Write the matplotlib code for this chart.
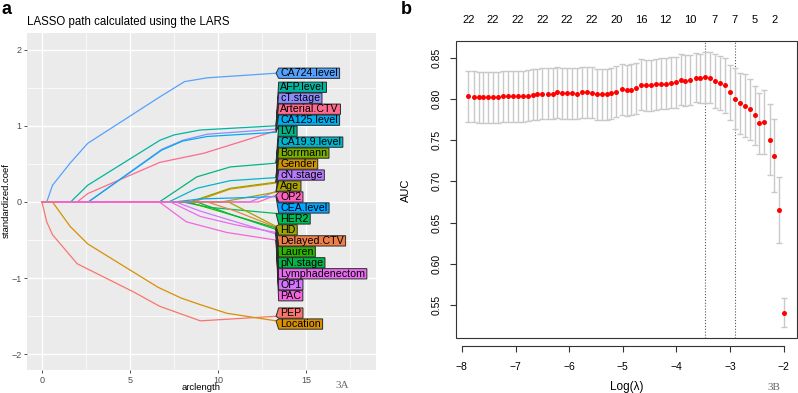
import numpy as np
import matplotlib
matplotlib.use('Agg')
import matplotlib.pyplot as plt
from matplotlib.patches import Polygon, Rectangle
from matplotlib.transforms import blended_transform_factory

plt.rcParams['font.family'] = ['Liberation Sans', 'DejaVu Sans']

# ---- panel a: LARS coefficient paths (arclength knots, coefficient at knot) ----
var_names = ['CA724.level', 'AFP.level', 'cT.stage', 'Arterial.CTV', 'CA125.level',
             'LVI', 'CA19.9.level', 'Borrmann', 'Gender', 'cN.stage', 'Age', 'OP2',
             'CEA.level', 'HER2', 'HD', 'Delayed.CTV', 'Lauren', 'pN.stage',
             'Lymphadenectom', 'OP1', 'PAC', 'PEP', 'Location']

path_arclength = [
    [0, 0.27, 0.6, 1.6, 2.6, 6.7, 8.1, 9.4, 13.3],
    [0, 1.63, 2.6, 6.7, 7.5, 9.0, 13.3],
    [0, 2.63, 6.8, 8.0, 9.4, 13.3],
    [0, 2.0, 2.6, 6.7, 9.2, 13.3],
    [0, 2.63, 6.8, 8.0, 9.4, 13.3],
    [0, 6.67, 8.8, 10.7, 13.3],
    [0, 7.2, 8.8, 10.7, 13.3],
    [0, 8.4, 10.7, 13.3],
    [0, 8.6, 10.7, 13.3],
    [0, 11.8, 13.3],
    [0, 10.2, 13.3],
    [0, 12.3, 13.3],
    [0, 7.5, 9.0, 13.3],
    [0, 8.0, 9.5, 13.3],
    [0, 10.6, 13.3],
    [0, 9.4, 11.0, 13.3],
    [0, 8.3, 10.5, 13.3],
    [0, 8.8, 10.7, 13.3],
    [0, 7.3, 9.0, 11.0, 13.3],
    [0, 7.6, 9.0, 13.3],
    [0, 6.67, 8.2, 10.5, 13.3],
    [0, 0.27, 0.6, 2.0, 2.6, 5.2, 6.7, 9.0, 13.3],
    [0, 0.6, 1.6, 2.6, 6.6, 7.9, 8.9, 10.5, 13.3],
]
path_coef = [
    [0, 0, 0.22, 0.51, 0.77, 1.38, 1.58, 1.63, 1.69],
    [0, 0, 0.22, 0.81, 0.88, 0.945, 1.00],
    [0, 0, 0.69, 0.81, 0.89, 0.955],
    [0, 0, 0.11, 0.52, 0.64, 0.935],
    [0, 0, 0.68, 0.80, 0.86, 0.915],
    [0, 0, 0.33, 0.46, 0.51],
    [0, 0, 0.18, 0.28, 0.32],
    [0, 0, 0.18, 0.26],
    [0, 0, 0.17, 0.25],
    [0, 0, 0.14],
    [0, 0, 0.13],
    [0, 0, 0.09],
    [0, 0, 0.04, 0.07],
    [0, 0, -0.07, -0.15],
    [0, 0, -0.32],
    [0, 0, -0.12, -0.33],
    [0, 0, -0.15, -0.34],
    [0, 0, -0.16, -0.36],
    [0, 0, -0.19, -0.30, -0.40],
    [0, 0, -0.12, -0.42],
    [0, 0, -0.26, -0.40, -0.50],
    [0, -0.26, -0.43, -0.81, -0.88, -1.18, -1.37, -1.56, -1.50],
    [0, 0, -0.32, -0.55, -1.12, -1.26, -1.34, -1.46, -1.56],
]
var_colors = ['#55A1FF', '#00B5A0', '#8C8CFF', '#FF6A8E', '#00ADEE', '#00B483',
              '#00B5CC', '#7AAE00', '#CC9400', '#B77BFF', '#ABA300', '#FF62BC',
              '#00A6FF', '#00BC5A', '#9BA600', '#EF7F49', '#2AB600', '#00B846',
              '#E96BF0', '#D474FF', '#F565E0', '#F8766D', '#D89000']

# ---- panel b: cross-validated AUC along log(lambda) ----
log_lambda = [-7.88, -7.78, -7.69, -7.60, -7.51, -7.42, -7.32, -7.23, -7.14, -7.05,
              -6.96, -6.86, -6.77, -6.68, -6.59, -6.50, -6.40, -6.31, -6.22, -6.13,
              -6.04, -5.94, -5.85, -5.76, -5.67, -5.58, -5.48, -5.39, -5.30, -5.21,
              -5.12, -5.02, -4.93, -4.84, -4.75, -4.66, -4.56, -4.47, -4.38, -4.29,
              -4.20, -4.10, -4.01, -3.92, -3.83, -3.74, -3.64, -3.55, -3.46, -3.37,
              -3.28, -3.18, -3.09, -3.00, -2.91, -2.82, -2.72, -2.63, -2.54, -2.45,
              -2.36, -2.26, -2.17, -2.08, -1.99]
auc_mean = [0.8033, 0.8029, 0.8021, 0.8021, 0.8021, 0.8021, 0.8025, 0.8033, 0.8033, 0.8033,
            0.8037, 0.8037, 0.8041, 0.8053, 0.8061, 0.8065, 0.8065, 0.8065, 0.8085, 0.8073,
            0.8073, 0.8069, 0.8065, 0.8081, 0.8081, 0.8077, 0.8057, 0.8057, 0.8057, 0.8073,
            0.8093, 0.8118, 0.8110, 0.8114, 0.8134, 0.8178, 0.8170, 0.8170, 0.8182, 0.8186,
            0.8190, 0.8198, 0.8206, 0.8234, 0.8222, 0.8234, 0.8263, 0.8255, 0.8267, 0.8259,
            0.8222, 0.8198, 0.8166, 0.8081, 0.8005, 0.7948, 0.7920, 0.7876, 0.7803, 0.7707,
            0.7719, 0.7509, 0.7312, 0.6650, 0.5406]
auc_sd = [0.031] * 45 + [0.030, 0.030, 0.030, 0.031, 0.031, 0.033, 0.033, 0.033, 0.034,
                         0.037, 0.037, 0.038, 0.037, 0.036, 0.037, 0.039, 0.043, 0.0445,
                         0.040, 0.0175]
nzero_idx = [0, 5, 10, 15, 20, 25, 30, 35, 40, 45, 50, 54, 58, 62]
nzero_labels = ['22', '22', '22', '22', '22', '22', '20', '16', '12', '10', '7', '7', '5', '2']
idx_min = 48
idx_1se = 54


def spread_labels(targets, gap):
    '''stack labels around the mean of their cluster so they do not overlap'''
    order = list(np.argsort(-np.asarray(targets)))
    clusters = [[i] for i in order]

    def pos(cl):
        c = np.mean([targets[i] for i in cl])
        n = len(cl)
        return [c + gap * ((n - 1) / 2 - k) for k in range(n)]

    merged = True
    while merged:
        merged = False
        for j in range(len(clusters) - 1):
            if pos(clusters[j])[-1] - pos(clusters[j + 1])[0] < gap:
                clusters[j] = clusters[j] + clusters[j + 1]
                del clusters[j + 1]
                merged = True
                break
    out = {}
    for cl in clusters:
        for i, y in zip(cl, pos(cl)):
            out[i] = y
    return [out[i] for i in range(len(targets))]


W, H = 798, 393
fig = plt.figure(figsize=(W / 100, H / 100), dpi=100)

# ------------------------------- panel a
ax1 = fig.add_axes([27 / W, 1 - 370 / H, (376 - 27) / W, (370 - 33) / H])
ax1.set_facecolor('#EBEBEB')
ax1.set_xlim(-0.85, 18.98)
ax1.set_ylim(-2.205, 2.218)
ax1.set_xticks([0, 5, 10, 15])
ax1.set_yticks([-2, -1, 0, 1, 2])
ax1.set_xticks([2.5, 7.5, 12.5, 17.5], minor=True)
ax1.set_yticks([-1.5, -0.5, 0.5, 1.5], minor=True)
ax1.grid(which='major', color='white', lw=1.0)
ax1.grid(which='minor', color='white', lw=0.5)
ax1.set_axisbelow(True)
for s in ax1.spines.values():
    s.set_visible(False)
ax1.tick_params(which='major', length=2.5, width=0.6, color='#333333',
                labelcolor='#4D4D4D', labelsize=6.5, pad=1.5)
ax1.tick_params(which='minor', length=0)
ax1.set_yticklabels(['\u22122', '\u22121', '0', '1', '2'])

for k, name in enumerate(var_names):
    z = 3 if name == 'OP2' else 2
    ax1.plot(path_arclength[k], path_coef[k], color=var_colors[k], lw=0.9, zorder=z)

ends = [c[-1] for c in path_coef]
label_y = spread_labels(ends, 0.144)
x_tip, x_box = 13.3, 13.45
box_h = 0.135
texts = []
for k, name in enumerate(var_names):
    t = ax1.text(x_box + 0.08, label_y[k], name, fontsize=7.7, va='center', ha='left',
                 color='black', zorder=6)
    texts.append(t)
fig.canvas.draw()
renderer = fig.canvas.get_renderer()
inv = ax1.transData.inverted()
for k, t in enumerate(texts):
    bb = t.get_window_extent(renderer)
    x_end = inv.transform((bb.x1, bb.y0))[0] + 0.1
    ly = label_y[k]
    poly = Polygon([(x_tip, ends[k]), (x_box, ly + box_h / 2), (x_end, ly + box_h / 2),
                    (x_end, ly - box_h / 2), (x_box, ly - box_h / 2)],
                   closed=True, facecolor=var_colors[k], edgecolor='#2b2b2b', lw=0.7,
                   zorder=5)
    ax1.add_patch(poly)

fig.text(27 / W, 1 - 22 / H, 'LASSO path calculated using the LARS', fontsize=8.3,
         ha='left', va='center')
fig.text(201 / W, 1 - 388 / H, 'arclength', fontsize=6.8, ha='center', va='center')
fig.text(6 / W, 1 - 201 / H, 'standardized.coef', fontsize=6.8, ha='center', va='center',
         rotation=90)
fig.text(342 / W, 1 - 385 / H, '3A', fontsize=8, ha='center', va='center',
         family='Liberation Serif', color='#666666')
fig.text(1 / W, 1 - 10 / H, 'a', fontsize=13, fontweight='bold', ha='left', va='center')

# ------------------------------- panel b
ax2 = fig.add_axes([456 / W, 1 - 338 / H, (797 - 456) / W, (338 - 41) / H])
ax2.set_xlim(-8.11, -1.75)
ax2.set_ylim(0.5096, 0.8707)
ax2.errorbar(log_lambda, auc_mean, yerr=auc_sd, fmt='none', ecolor='#C9C9C9',
             elinewidth=1.0, capsize=2.2, capthick=1.0, zorder=2)
ax2.plot(log_lambda, auc_mean, 'o', color='red', ms=3.6, mec='none', zorder=3)
for i in (idx_min, idx_1se):
    ax2.axvline(log_lambda[i], color='#555555', lw=0.8, ls=(0, (1, 1.6)), zorder=1)

ax2.add_patch(Rectangle((0, 0), 1, 1, transform=ax2.transAxes, fill=False,
                        lw=0.8, ec='#333333', clip_on=False, zorder=4))
ax2.spines['top'].set_visible(False)
ax2.spines['right'].set_visible(False)
ax2.spines['bottom'].set_position(('outward', 6))
ax2.spines['bottom'].set_bounds(-8, -2)
ax2.spines['left'].set_bounds(0.55, 0.85)
for s in ('bottom', 'left'):
    ax2.spines[s].set_linewidth(0.8)
    ax2.spines[s].set_color('#333333')
ax2.set_xticks([-8, -7, -6, -5, -4, -3, -2])
ax2.set_xticklabels(['\u22128', '\u22127', '\u22126', '\u22125', '\u22124', '\u22123', '\u22122'])
ax2.set_yticks([0.55, 0.60, 0.65, 0.70, 0.75, 0.80, 0.85])
ax2.set_yticklabels(['0.55', '0.60', '0.65', '0.70', '0.75', '0.80', '0.85'],
                    rotation=90, va='center')
ax2.tick_params(axis='both', length=4, width=0.8, color='#333333', labelsize=7.5)
ax2.tick_params(axis='x', pad=7)
ax2.tick_params(axis='y', pad=6)

top = blended_transform_factory(ax2.transData, ax2.transAxes)
for i, lab in zip(nzero_idx, nzero_labels):
    ax2.text(log_lambda[i], 1.0707, lab, transform=top, ha='center', va='center',
             fontsize=8)

fig.text(627 / W, 1 - 387 / H, 'Log(\u03bb)', fontsize=8.5, ha='center', va='center')
fig.text(406 / W, 1 - 190 / H, 'AUC', fontsize=8, ha='center', va='center', rotation=90)
fig.text(774 / W, 1 - 387 / H, '3B', fontsize=8, ha='center', va='center',
         family='Liberation Serif', color='#666666')
fig.text(401 / W, 1 - 10 / H, 'b', fontsize=13, fontweight='bold', ha='left', va='center')

fig.savefig('out.png', dpi=100)
